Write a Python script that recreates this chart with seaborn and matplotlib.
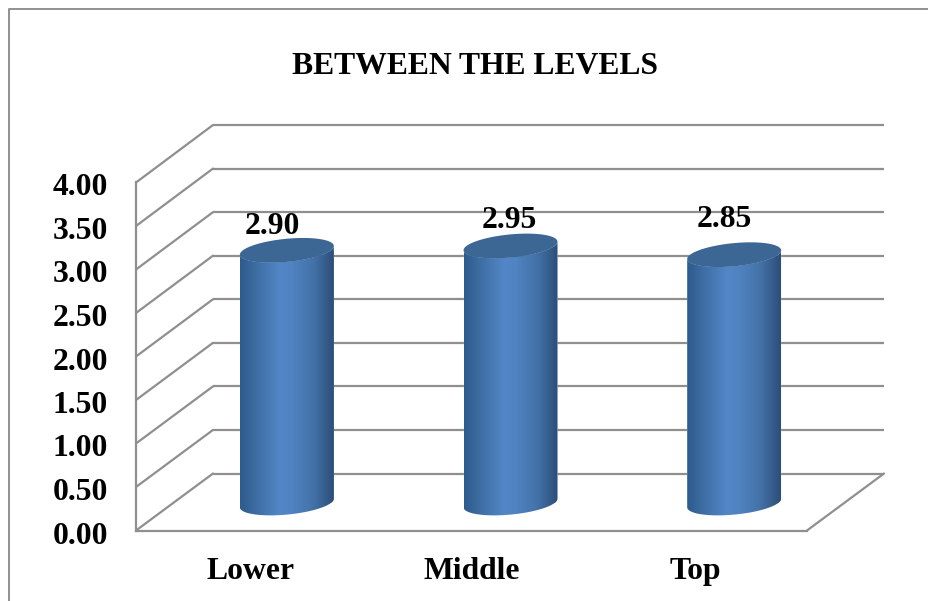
import numpy as np
import pandas as pd
import matplotlib
matplotlib.use("Agg")
import matplotlib.pyplot as plt
import seaborn as sns
from matplotlib.colors import LinearSegmentedColormap
from matplotlib.lines import Line2D
from matplotlib.patches import ConnectionPatch, PathPatch
from matplotlib.path import Path
from matplotlib.transforms import IdentityTransform, ScaledTranslation

levels = ["Lower", "Middle", "Top"]
scores = [2.90, 2.95, 2.85]
value_labels = ["2.90", "2.95", "2.85"]
y_ticks = [0.0, 0.5, 1.0, 1.5, 2.0, 2.5, 3.0, 3.5, 4.0]
title = "BETWEEN THE LEVELS"

# Hand-placed label shifts (pixels) relative to each bar's top centre
label_shift = [(-15, 24), (-1, 25), (-10, 35)]

W, H = 929, 601
GRAY = "#8f8f8f"
FONT_SIZE = 22.8

sns.set_style("white")
plt.rcParams["font.family"] = ["Liberation Serif", "DejaVu Serif"]
plt.rcParams["font.weight"] = "bold"
plt.rcParams["text.color"] = "black"
plt.rcParams["xtick.color"] = "black"
plt.rcParams["ytick.color"] = "black"

fig = plt.figure(figsize=(W / 100, H / 100), dpi=100, facecolor="white")


def panel(left, top, right, bottom):
    """Axes placed by its pixel box, measured from the top left of the figure."""
    ax = fig.add_axes([left / W, 1 - bottom / H, (right - left) / W, (bottom - top) / H])
    ax.set_xlim(-0.5, 2.5)
    ax.set_ylim(0, 4)
    ax.patch.set_alpha(0)
    return ax


def nudge(label, dx, dy):
    """Shift a tick label by a number of pixels."""
    label.set_transform(label.get_transform()
                        + ScaledTranslation(dx / 100, dy / 100, fig.dpi_scale_trans))


# Back wall, front frame and the plane half way between them that holds the bars
back = panel(213, 125, 884, 473.5)
front = panel(136, 182.5, 807, 530.5)
middle = panel(175, 154.5, 846, 503)

back.hlines(y_ticks, -0.5, 2.5, color=GRAY, lw=1.6, clip_on=False)
back.axis("off")

for side in ("top", "right"):
    front.spines[side].set_visible(False)
for side in ("left", "bottom"):
    front.spines[side].set_color(GRAY)
    front.spines[side].set_linewidth(1.6)
front.set_yticks(y_ticks, [f"{v:.2f}" for v in y_ticks])
front.set_xticks(range(len(levels)), levels)
front.tick_params(axis="both", length=0, labelsize=FONT_SIZE)
front.tick_params(axis="y", pad=20)
front.tick_params(axis="x", pad=19)
for label in front.get_yticklabels():
    nudge(label, 0, -2)
nudge(front.get_xticklabels()[0], 3, 0)

# Side-wall diagonals at each tick, plus the floor's right edge
for v in y_ticks:
    fig.add_artist(ConnectionPatch((-0.5, v), (-0.5, v), coordsA=front.transData,
                                   coordsB=back.transData, color=GRAY, lw=1.6))
fig.add_artist(ConnectionPatch((2.5, 0), (2.5, 0), coordsA=front.transData,
                               coordsB=back.transData, color=GRAY, lw=1.6))

# Page rule along the left and top edges
fig.add_artist(Line2D([9 / W, 9 / W, 1], [0, 1 - 8.5 / H, 1 - 8.5 / H],
                      transform=fig.transFigure, color=GRAY, lw=1.4))

frame = pd.DataFrame({"level": levels, "score": scores})
sns.barplot(data=frame, x="level", y="score", color="#4f81bd", width=0.42,
            saturation=1, ax=middle)
middle.set_xlim(-0.5, 2.5)
middle.set_ylim(0, 4)
middle.axis("off")

body_cmap = LinearSegmentedColormap.from_list(
    "cylinder",
    [(0.0, "#2f5a8c"), (0.14, "#3a6a9f"), (0.42, "#5286c6"), (0.55, "#5083c2"),
     (0.78, "#4472a8"), (1.0, "#2c4e78")],
)
shade = np.linspace(0, 1, 256).reshape(1, -1)

TILT = 4.3   # rise of the ellipse's right end, pixels
MINOR = 11.6  # half height of the ellipse, pixels
t_lower = np.linspace(np.pi, 2 * np.pi, 60)
t_upper = np.linspace(0, np.pi, 60)


def arc(cx, cy, half, t):
    return np.column_stack([cx + half * np.cos(t),
                            cy + MINOR * np.sin(t) + TILT * np.cos(t)])


for i, (bar, text, shift) in enumerate(zip(middle.patches, value_labels, label_shift)):
    x0, y0 = bar.get_x(), bar.get_y()
    w, h = bar.get_width(), bar.get_height()
    (px0, py0), (px1, py1) = middle.transData.transform([(x0, y0), (x0 + w, y0 + h)])
    cx, half = (px0 + px1) / 2, (px1 - px0) / 2

    # Cylinder outline: lower rim of the base, then the front rim of the top
    outline = np.vstack([arc(cx, py0, half, t_lower),
                         arc(cx, py1, half, t_lower)[::-1]])
    silhouette = Path(np.vstack([outline, outline[:1]]), closed=True)
    bar.set_clip_path(silhouette, IdentityTransform())

    # The base dips below the plane's zero line, so the shading may leave the axes box
    image = middle.imshow(shade, cmap=body_cmap, aspect="auto", zorder=3,
                          extent=(x0, x0 + w, -0.2, y0 + h + 0.2))
    image.set_clip_path(silhouette, IdentityTransform())
    image.set_clip_box(fig.bbox)

    cap = np.vstack([arc(cx, py1, half, t_upper), arc(cx, py1, half, t_lower)])
    middle.add_patch(PathPatch(Path(cap), facecolor="#3c6694", edgecolor="none",
                               transform=IdentityTransform(), zorder=4, clip_on=False))

    middle.annotate(text, (i, bar.get_height()), xytext=shift, textcoords="offset pixels",
                    ha="center", va="center", fontsize=FONT_SIZE, fontweight="bold",
                    color="black", zorder=6, annotation_clip=False)

middle.set_xlim(-0.5, 2.5)
middle.set_ylim(0, 4)

fig.text(475 / W, 1 - 67 / H, title, ha="center", va="center",
         fontsize=FONT_SIZE, fontweight="bold", color="black")

fig.savefig("out.png", dpi=100)
